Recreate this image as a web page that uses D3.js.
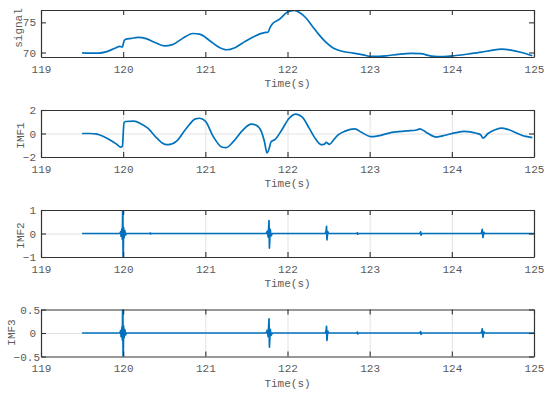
<!doctype html>
<html>
<head>
<meta charset="utf-8">
<title>signal and IMFs</title>
<script src="https://cdnjs.cloudflare.com/ajax/libs/d3/7.8.5/d3.min.js"></script>
<style>
  body { margin: 0; background: #fff; }
  svg text { font-family: "Liberation Mono", "DejaVu Sans Mono", monospace; font-size: 11px; fill: #5a5a5a; }
</style>
</head>
<body>
<svg width="550" height="393"></svg>
<script>
// x ticks shared by every panel
var xTicks = [119, 120, 121, 122, 123, 124, 125];

// raw signal (time, value)
var signalT = [119.5, 119.6, 119.7, 119.8, 119.9, 119.96, 119.99, 120.01, 120.03, 120.1, 120.18, 120.28, 120.38, 120.5, 120.6, 120.72, 120.85, 120.93, 121.05, 121.15, 121.26, 121.36, 121.48, 121.6, 121.72, 121.76, 121.79, 121.82, 121.9, 122.0, 122.08, 122.15, 122.22, 122.3, 122.38, 122.46, 122.55, 122.65, 122.8, 122.92, 123.02, 123.2, 123.35, 123.5, 123.62, 123.75, 123.9, 124.05, 124.2, 124.36, 124.5, 124.6, 124.72, 124.85, 124.98];
var signalV = [69.95, 69.9, 69.9, 70.15, 70.7, 71.0, 70.9, 71.9, 72.2, 72.35, 72.5, 72.3, 71.7, 71.1, 71.3, 72.3, 73.15, 73.05, 72.0, 71.0, 70.45, 70.8, 71.8, 72.7, 73.3, 73.35, 74.2, 74.8, 75.5, 76.7, 77.0, 76.6, 75.8, 74.4, 73.0, 71.8, 70.8, 70.25, 69.9, 69.6, 69.35, 69.45, 69.7, 69.85, 69.8, 69.4, 69.3, 69.5, 69.75, 70.05, 70.4, 70.55, 70.4, 70.0, 69.45];

// IMF1
var imf1T = [119.5, 119.6, 119.68, 119.76, 119.84, 119.92, 119.97, 119.99, 120.01, 120.03, 120.13, 120.22, 120.3, 120.41, 120.5, 120.55, 120.65, 120.77, 120.88, 120.93, 121.0, 121.1, 121.2, 121.25, 121.34, 121.45, 121.56, 121.62, 121.68, 121.72, 121.75, 121.78, 121.8, 121.85, 121.93, 122.02, 122.1, 122.18, 122.26, 122.34, 122.41, 122.45, 122.47, 122.51, 122.56, 122.62, 122.7, 122.82, 122.9, 123.02, 123.1, 123.27, 123.45, 123.57, 123.61, 123.7, 123.81, 123.92, 124.05, 124.15, 124.3, 124.35, 124.38, 124.44, 124.52, 124.6, 124.68, 124.8, 124.9, 124.98];
var imf1V = [0.0, 0.0, -0.06, -0.25, -0.55, -0.9, -1.16, -1.1, 0.9, 1.02, 1.05, 0.8, 0.45, -0.4, -0.9, -0.95, -0.65, 0.45, 1.25, 1.3, 1.05, -0.3, -1.15, -1.2, -0.7, 0.25, 0.8, 0.7, 0.2, -0.7, -1.65, -1.2, -0.7, -0.5, 0.3, 1.3, 1.65, 1.4, 0.5, -0.45, -0.95, -0.9, -0.75, -0.92, -0.55, -0.1, 0.2, 0.4, 0.1, -0.27, -0.2, 0.1, 0.22, 0.3, 0.4, 0.05, -0.3, -0.15, 0.08, 0.18, 0.02, -0.1, -0.4, 0.0, 0.3, 0.45, 0.35, 0.0, -0.25, -0.35];

// IMF2: flat with short bursts
var imf2T = [119.5, 119.96, 119.97, 119.975, 119.985, 119.99, 119.995, 120.0, 120.005, 120.012, 120.02, 120.03, 120.04, 120.32, 120.33, 120.335, 120.345, 121.74, 121.755, 121.765, 121.775, 121.78, 121.79, 121.8, 121.815, 122.46, 122.47, 122.475, 122.48, 122.49, 122.5, 122.84, 122.85, 122.855, 122.865, 123.61, 123.62, 123.625, 123.635, 124.355, 124.365, 124.37, 124.378, 124.39, 124.4, 125.0];
var imf2V = [0, 0, 0.08, -0.12, 0.2, -0.25, 1.3, -1.3, 0.25, -0.18, 0.12, -0.06, 0, 0, 0.02, -0.02, 0, 0, 0.1, -0.15, 0.55, -0.62, 0.18, -0.1, 0, 0, 0.1, 0.3, -0.27, 0.08, 0, 0, 0.03, -0.03, 0, 0, 0.07, -0.07, 0, 0, 0.08, 0.18, -0.17, 0.05, 0, 0];

// IMF3: flat with short bursts
var imf3T = [119.5, 119.96, 119.97, 119.975, 119.985, 119.99, 119.995, 120.0, 120.005, 120.012, 120.02, 120.03, 120.04, 121.74, 121.755, 121.765, 121.775, 121.78, 121.79, 121.8, 121.815, 122.46, 122.47, 122.475, 122.48, 122.49, 122.5, 122.84, 122.85, 122.855, 122.865, 123.61, 123.62, 123.625, 123.635, 124.355, 124.365, 124.37, 124.378, 124.39, 124.4, 125.0];
var imf3V = [0, 0, 0.05, -0.08, 0.12, -0.15, 0.8, -0.8, 0.15, -0.1, 0.07, -0.04, 0, 0, 0.06, -0.08, 0.3, -0.3, 0.08, -0.05, 0, 0, 0.05, 0.14, -0.16, 0.04, 0, 0, 0.02, -0.02, 0, 0, 0.03, -0.03, 0, 0, 0.04, 0.09, -0.09, 0.03, 0, 0];

var panels = [
  { name: "signal", t: signalT, v: signalV, domain: [69.25, 77.05], yTicks: [70, 75], grid: false, curve: d3.curveMonotoneX, labelX: 22, labelY: 28 },
  { name: "IMF1", t: imf1T, v: imf1V, domain: [-2, 2], yTicks: [-2, 0, 2], grid: true, curve: d3.curveMonotoneX, labelX: 24, labelY: 135.5 },
  { name: "IMF2", t: imf2T, v: imf2V, domain: [-1, 1], yTicks: [-1, 0, 1], grid: true, curve: d3.curveLinear, labelX: 24, labelY: 235.5 },
  { name: "IMF3", t: imf3T, v: imf3V, domain: [-0.5, 0.5], yTicks: [-0.5, 0, 0.5], grid: true, curve: d3.curveLinear, labelX: 15, labelY: 332.5 }
];
var tops = [10, 110, 210, 309.5];
var ph = 47;
var left = 41, right = 534;

var svg = d3.select("svg");
var x = d3.scaleLinear().domain([119, 125]).range([left, right]);

panels.forEach(function(p, i) {
  var top = tops[i], bottom = top + ph;
  var y = d3.scaleLinear().domain(p.domain).range([bottom, top]);
  var g = svg.append("g");

  // grid
  if (p.grid) {
    g.append("g")
      .attr("transform", "translate(0," + bottom + ")")
      .call(d3.axisBottom(x).tickValues(xTicks.slice(1, -1)).tickSize(-ph).tickFormat(""))
      .call(function(s) { s.select(".domain").remove(); s.selectAll("line").attr("stroke", "#e2e2e2"); });
    g.append("g")
      .attr("transform", "translate(" + left + ",0)")
      .call(d3.axisLeft(y).tickValues([0]).tickSize(-(right - left)).tickFormat(""))
      .call(function(s) { s.select(".domain").remove(); s.selectAll("line").attr("stroke", "#e2e2e2"); });
  }

  // clipped line
  g.append("clipPath").attr("id", "clip" + i)
    .append("rect").attr("x", left).attr("y", top).attr("width", right - left).attr("height", ph);
  var pts = p.t.map(function(t, k) { return [t, p.v[k]]; });
  g.append("path")
    .datum(pts)
    .attr("clip-path", "url(#clip" + i + ")")
    .attr("fill", "none")
    .attr("stroke", "#0072BD")
    .attr("stroke-width", 1.7)
    .attr("stroke-linejoin", "round")
    .attr("d", d3.line().x(function(d) { return x(d[0]); }).y(function(d) { return y(d[1]); }).curve(p.curve));

  // axes with inward ticks
  function style(s) {
    s.select(".domain").attr("stroke", "#333").attr("stroke-width", 1.2);
    s.selectAll(".tick line").attr("stroke", "#333").attr("stroke-width", 1.1);
    s.selectAll("text").attr("font-family", null).attr("font-size", null);
  }
  g.append("g").attr("transform", "translate(0," + bottom + ")")
    .call(d3.axisBottom(x).tickValues(xTicks).tickSize(-5).tickSizeOuter(0).tickPadding(7.7).tickFormat(d3.format("d")))
    .call(style);
  g.append("g").attr("transform", "translate(0," + top + ")")
    .call(d3.axisTop(x).tickValues(xTicks).tickSize(-5).tickSizeOuter(0).tickFormat(""))
    .call(style);
  var yl = g.append("g").attr("transform", "translate(" + left + ",0)")
    .call(d3.axisLeft(y).tickValues(p.yTicks).tickSize(-5).tickSizeOuter(0).tickPadding(5).tickFormat(d3.format("")))
    .call(style);
  if (i === 3) {
    yl.selectAll(".tick text").attr("dx", function(d) { return d === 0 ? 0 : 4; });
  }
  g.append("g").attr("transform", "translate(" + right + ",0)")
    .call(d3.axisRight(y).tickValues(p.yTicks).tickSize(-5).tickSizeOuter(0).tickFormat(""))
    .call(style);

  // axis labels
  g.append("text")
    .attr("transform", "translate(" + p.labelX + "," + p.labelY + ") rotate(-90)")
    .attr("text-anchor", "middle")
    .text(p.name);
  g.append("text")
    .attr("x", (left + right) / 2)
    .attr("y", bottom + 30)
    .attr("text-anchor", "middle")
    .text("Time(s)");
});
</script>
</body>
</html>
